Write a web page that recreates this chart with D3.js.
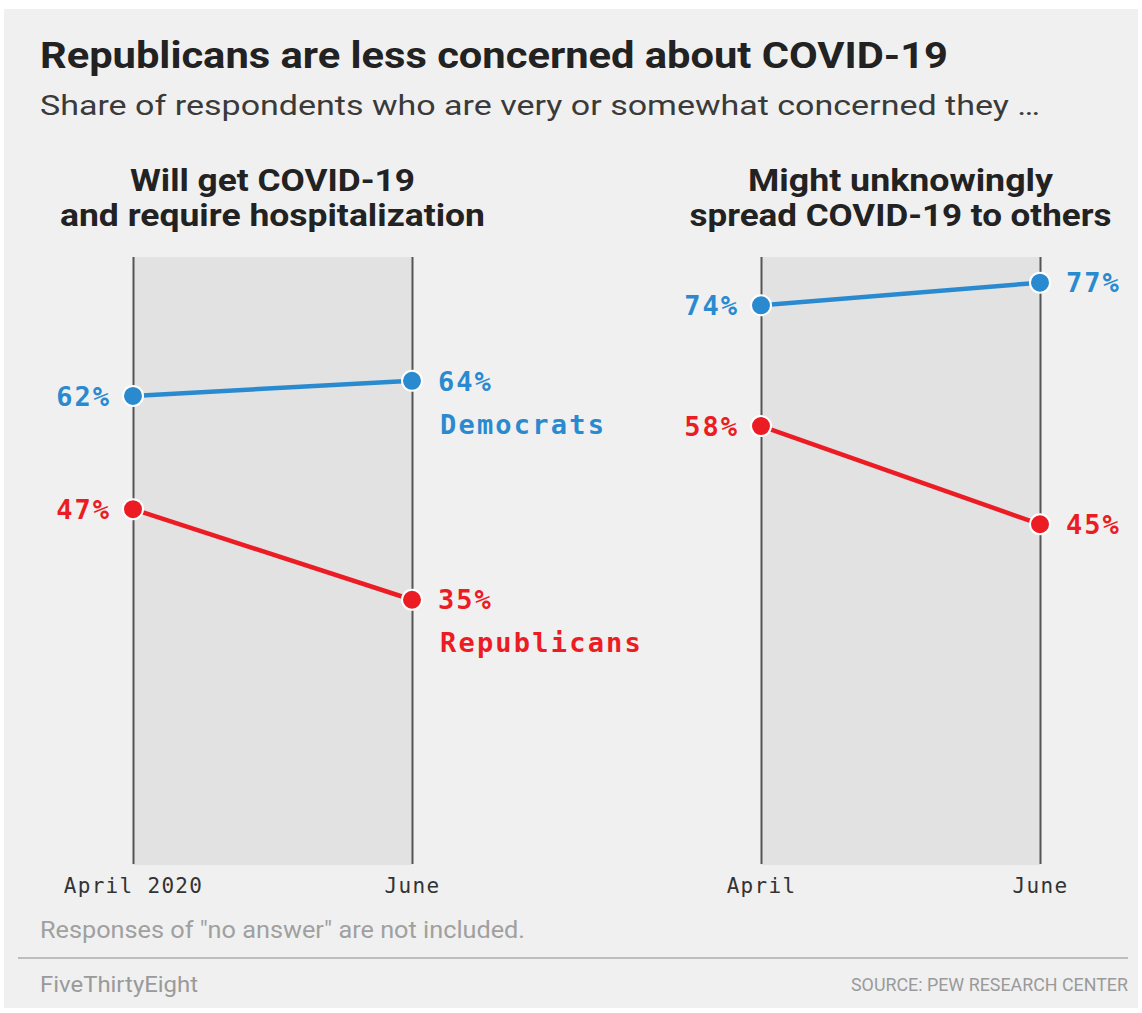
<!DOCTYPE html>
<html>
<head>
<meta charset="utf-8">
<script src="https://cdn.jsdelivr.net/npm/d3@7"></script>
<style>
  body { margin: 0; background: #fff; }
  svg text { font-family: Roboto, "Noto Sans", sans-serif; }
  .mono { font-family: "DejaVu Sans Mono", "Liberation Mono", monospace; }
</style>
</head>
<body>
<div id="chart"></div>
<script>
// data
var periods = ["April", "June"];
var tickLabelsLeft = ["April 2020", "June"];
var tickLabelsRight = ["April", "June"];
var panelTitles = [
  ["Will get COVID-19", "and require hospitalization"],
  ["Might unknowingly", "spread COVID-19 to others"]
];
var demHosp = [62, 64];
var repHosp = [47, 35];
var demSpread = [74, 77];
var repSpread = [58, 45];
var partyNames = ["Democrats", "Republicans"];

var blue = "#2a8ad0", red = "#ec1c24";

var W = 1142, H = 1013;
var svg = d3.select("#chart").append("svg")
    .attr("width", W)
    .attr("height", H);

// background card
svg.append("rect")
    .attr("x", 4).attr("y", 9)
    .attr("width", 1134).attr("height", 999)
    .attr("fill", "#f0f0f0");

// title + subtitle
svg.append("text")
    .attr("x", 40).attr("y", 68)
    .attr("font-size", 37).attr("font-weight", 700)
    .attr("fill", "#222")
    .attr("textLength", 908).attr("lengthAdjust", "spacingAndGlyphs")
    .text("Republicans are less concerned about COVID-19");

svg.append("text")
    .attr("x", 40).attr("y", 115)
    .attr("font-size", 28.5)
    .attr("fill", "#3a3a3a")
    .attr("textLength", 1000).attr("lengthAdjust", "spacingAndGlyphs")
    .text("Share of respondents who are very or somewhat concerned they \u2026");

// shared y scale
var y = d3.scaleLinear()
    .domain([0, 80])
    .range([864, 260]);

var panels = [
  { x0: 133, x1: 412, title: panelTitles[0], widths: [285, 425], ticks: tickLabelsLeft, dem: demHosp, rep: repHosp, names: true },
  { x0: 761, x1: 1040, title: panelTitles[1], widths: [305, 422], ticks: tickLabelsRight, dem: demSpread, rep: repSpread, names: false }
];

panels.forEach(function(p) {
  var x = d3.scalePoint()
      .domain(periods)
      .range([p.x0, p.x1]);

  var g = svg.append("g");

  // shaded band between the two surveys
  g.append("rect")
      .attr("x", x(periods[0]))
      .attr("y", 257)
      .attr("width", x(periods[1]) - x(periods[0]))
      .attr("height", 865 - 257)
      .attr("fill", "#e2e2e2");

  // panel title
  var cx = (p.x0 + p.x1) / 2;
  g.selectAll(".ptitle")
    .data(p.title)
    .enter().append("text")
      .attr("x", cx)
      .attr("y", function(d, i) { return 191 + i * 35; })
      .attr("text-anchor", "middle")
      .attr("font-size", 31)
      .attr("font-weight", 700)
      .attr("fill", "#222")
      .attr("textLength", function(d, i) { return p.widths[i]; })
      .attr("lengthAdjust", "spacingAndGlyphs")
      .text(function(d) { return d; });

  // axis: tick lines act as the vertical rules
  var axis = g.append("g")
      .attr("transform", "translate(0,864)")
      .call(d3.axisBottom(x)
        .tickSize(-(864 - 257))
        .tickPadding(10)
        .tickFormat(function(d, i) { return p.ticks[i]; }));
  axis.select(".domain").remove();
  axis.selectAll("line")
      .attr("stroke", "#555")
      .attr("stroke-width", 2);
  axis.selectAll("text")
      .attr("class", "mono")
      .attr("font-size", 21)
      .attr("letter-spacing", 1.3)
      .attr("fill", "#333")
      .attr("dy", "0.9em");

  var line = d3.line()
      .x(function(d, i) { return x(periods[i]); })
      .y(function(d) { return y(d); });

  var series = [
    { vals: p.dem, color: blue, name: partyNames[0] },
    { vals: p.rep, color: red, name: partyNames[1] }
  ];

  series.forEach(function(s) {
    g.append("path")
        .datum(s.vals)
        .attr("d", line)
        .attr("fill", "none")
        .attr("stroke", s.color)
        .attr("stroke-width", 4.5);

    g.selectAll(null)
      .data(s.vals)
      .enter().append("circle")
        .attr("cx", function(d, i) { return x(periods[i]); })
        .attr("cy", function(d) { return y(d); })
        .attr("r", 10)
        .attr("fill", s.color)
        .attr("stroke", "#fff")
        .attr("stroke-width", 2);

    // value labels
    g.selectAll(null)
      .data(s.vals)
      .enter().append("text")
        .attr("class", "mono")
        .attr("x", function(d, i) { return i === 0 ? x(periods[i]) - 22 : x(periods[i]) + 26; })
        .attr("y", function(d) { return y(d); })
        .attr("dy", "0.36em")
        .attr("text-anchor", function(d, i) { return i === 0 ? "end" : "start"; })
        .attr("font-size", 27)
        .attr("font-weight", 700)
        .attr("letter-spacing", 2)
        .attr("fill", s.color)
        .text(function(d) { return d + "%"; });

    if (p.names) {
      g.append("text")
          .attr("class", "mono")
          .attr("x", x(periods[1]) + 28)
          .attr("y", y(s.vals[1]) + 43)
          .attr("dy", "0.36em")
          .attr("font-size", 27)
          .attr("font-weight", 700)
          .attr("letter-spacing", 2.2)
          .attr("fill", s.color)
          .text(s.name);
    }
  });
});

// footnote, rule and credits
svg.append("text")
    .attr("x", 40).attr("y", 938)
    .attr("font-size", 23)
    .attr("fill", "#a0a0a0")
    .attr("textLength", 485).attr("lengthAdjust", "spacingAndGlyphs")
    .text("Responses of \"no answer\" are not included.");

svg.append("line")
    .attr("x1", 18).attr("x2", 1128)
    .attr("y1", 958).attr("y2", 958)
    .attr("stroke", "#bdbdbd")
    .attr("stroke-width", 2);

svg.append("text")
    .attr("x", 40).attr("y", 992)
    .attr("font-size", 22)
    .attr("fill", "#9a9a9a")
    .attr("textLength", 158).attr("lengthAdjust", "spacingAndGlyphs")
    .text("FiveThirtyEight");

svg.append("text")
    .attr("x", 1128).attr("y", 991)
    .attr("text-anchor", "end")
    .attr("font-size", 18)
    .attr("fill", "#9a9a9a")
    .attr("textLength", 277).attr("lengthAdjust", "spacingAndGlyphs")
    .text("SOURCE: PEW RESEARCH CENTER");
</script>
</body>
</html>
